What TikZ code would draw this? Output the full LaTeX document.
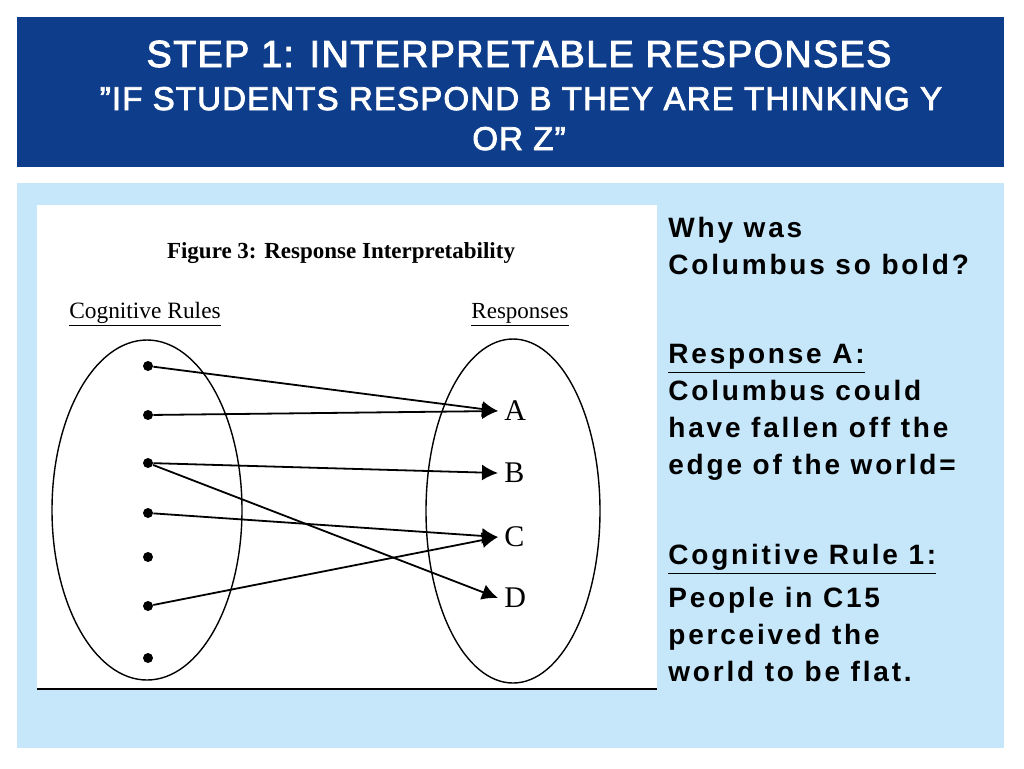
\documentclass[tikz,border=0pt]{standalone}
\usepackage{fontspec}
\setmainfont{Liberation Serif}
\newfontfamily\headfont[LetterSpace=3.5,FakeBold=2.5]{Liberation Sans}
\newfontfamily\bodyfont[LetterSpace=10]{Liberation Sans}
\usetikzlibrary{arrows.meta,shapes.geometric,positioning}
\definecolor{headblue}{RGB}{14,61,139}
\definecolor{panelblue}{RGB}{198,230,249}
\newcommand{\lnk}[2]{\path (#1) edge (#2.west); }

\begin{document}
\begin{tikzpicture}[x=0.5pt,y=-0.5pt,>={Latex[length=8pt,width=8pt]},
  dot/.style={circle,fill,inner sep=0pt,minimum size=5pt},
  resp/.style={anchor=west,inner sep=3pt,font=\fontsize{15}{15}\selectfont},
  set/.style={draw,ellipse,line width=0.7pt},
  head/.style={anchor=base,text=white,font=\headfont},
  body/.style={anchor=north west,align=left,inner sep=0pt,font=\bodyfont\bfseries\fontsize{14}{18.5}\selectfont}]
  \useasboundingbox (0,0) rectangle (1024,768);
  % slide frame
  \fill[headblue] (17,17) rectangle (1004,167);
  \fill[panelblue] (17,183) rectangle (1004,748);
  \fill[white] (37,205) rectangle (657,690);
  \draw[line width=0.8pt] (37,689) -- (657,689);
  % title
  \node[head,font=\headfont\fontsize{18.9}{20}\selectfont] (title) at (519,67) {STEP 1: INTERPRETABLE RESPONSES};
  \node[head,font=\headfont\fontsize{16.5}{18}\selectfont] (sub1) at (521,110) {”IF STUDENTS RESPOND B THEY ARE THINKING Y};
  \node[head,font=\headfont\fontsize{16.5}{18}\selectfont] (sub2) at (519,150) {OR Z”};
  % figure
  \node[anchor=base,font=\bfseries\fontsize{11.5}{12}\selectfont] (cap) at (341,258) {Figure 3: Response Interpretability};
  \node[anchor=base,font=\fontsize{11.7}{12}\selectfont] (rules) at (145,318) {\underline{Cognitive Rules}};
  \node[anchor=base,font=\fontsize{11.5}{12}\selectfont] (resps) at (520,318) {\underline{Responses}};
  \node[set,minimum width=95pt,minimum height=170pt] (left) at (147,510) {};
  \node[set,minimum width=87pt,minimum height=172pt] (right) at (513,511) {};
  \foreach \i/\y in {1/366,2/415,3/463,4/513,5/557,6/606,7/658}
    \node[dot] (r\i) at (148,\y) {};
  \node[resp] (A) at (498,411) {A};
  \node[resp] (B) at (498,473) {B};
  \node[resp] (C) at (498,537) {C};
  \node[resp] (D) at (498,598) {D};
  \begin{scope}[->,line width=0.9pt]
    \lnk{r1}{A}
    \lnk{r2}{A}
    \lnk{r3}{B}
    \lnk{r3}{D}
    \lnk{r4}{C}
    \lnk{r6}{C}
  \end{scope}
  % side text
  \node[body] (why) at (668,217) {Why was\\Columbus so bold?};
  \node[body] (ra) at (668,344) {\underline{Response A:}\\Columbus could\\have fallen off the\\edge of the world=};
  \node[body] (cr) at (668,544) {\underline{Cognitive Rule 1:}\\[3pt]People in C15\\perceived the\\world to be flat.};
\end{tikzpicture}
\end{document}
